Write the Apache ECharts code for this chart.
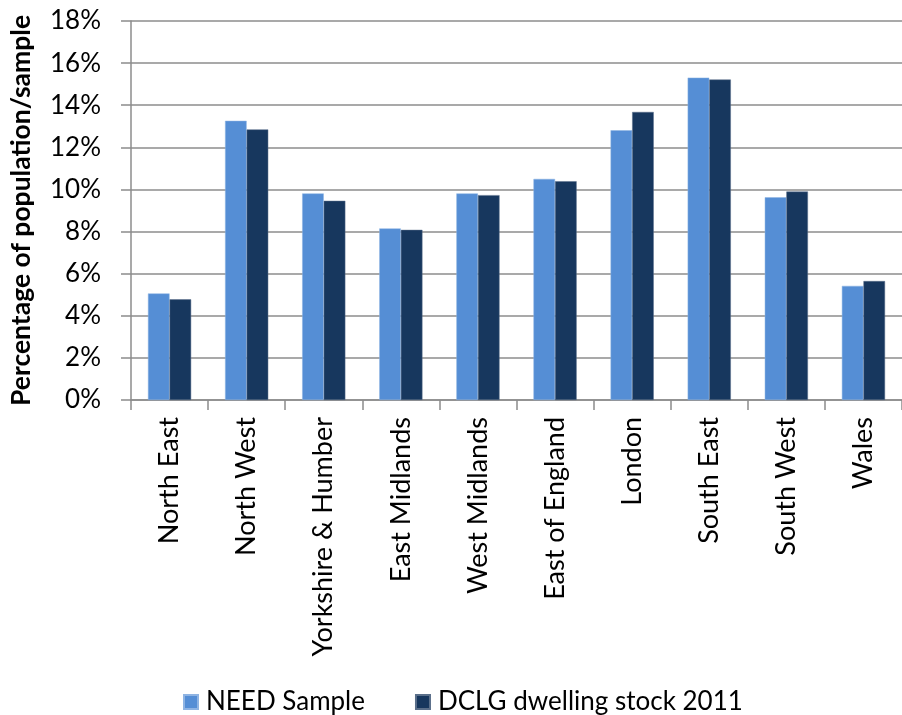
<!DOCTYPE html>
<html>
<head>
<meta charset="utf-8">
<script src="https://cdn.jsdelivr.net/npm/echarts@6/dist/echarts.min.js"></script>
<style>
  html, body { margin: 0; padding: 0; background: #fff; }
  #chart { width: 902px; height: 715px; }
</style>
</head>
<body>
<div id="chart"></div>
<script>
// Regions of England and Wales
const regions = ['North East', 'North West', 'Yorkshire & Humber', 'East Midlands', 'West Midlands',
                 'East of England', 'London', 'South East', 'South West', 'Wales'];
// Share of each region (%)
const needSample = [5.06, 13.26, 9.81, 8.15, 9.81, 10.50, 12.81, 15.31, 9.63, 5.42];
const dclgStock  = [4.78, 12.85, 9.46, 8.08, 9.73, 10.39, 13.68, 15.22, 9.90, 5.65];
const seriesNames = ['NEED Sample', 'DCLG dwelling stock 2011'];

const FONT = 'Lato, "Open Sans", sans-serif';
const chart = echarts.init(document.getElementById('chart'));

chart.setOption({
  animation: false,
  textStyle: { fontFamily: FONT },
  grid: { left: 125, right: -11, top: 21, bottom: 315, containLabel: false },
  legend: {
    bottom: -5,
    left: 178,
    itemWidth: 14,
    itemHeight: 14,
    itemGap: 50,
    icon: 'rect',
    textStyle: { fontSize: 26, color: '#000', fontFamily: FONT, padding: [0, 0, 0, 3] },
    data: seriesNames
  },
  xAxis: {
    type: 'category',
    data: regions,
    axisLine: { lineStyle: { color: '#8c8c8c', width: 1.5 } },
    axisTick: { show: true, length: 10, alignWithLabel: false, lineStyle: { color: '#8c8c8c', width: 1.5 } },
    axisLabel: { rotate: 90, fontSize: 27, color: '#000', margin: 17, interval: 0, fontFamily: FONT }
  },
  yAxis: {
    type: 'value',
    min: 0,
    max: 18,
    interval: 2,
    name: 'Percentage of population/sample',
    nameLocation: 'middle',
    nameGap: 96,
    nameTextStyle: { fontSize: 26.5, fontWeight: 'bold', color: '#000', fontFamily: FONT },
    axisLine: { show: true, lineStyle: { color: '#8c8c8c', width: 1.5 } },
    axisTick: { show: true, inside: false, length: 10, lineStyle: { color: '#8c8c8c', width: 1.5 } },
    axisLabel: { formatter: '{value}%', fontSize: 26, color: '#000', margin: 30, fontFamily: FONT },
    splitLine: { lineStyle: { color: '#8c8c8c', width: 1.5 } }
  },
  series: [
    {
      name: seriesNames[0],
      type: 'bar',
      data: needSample,
      barGap: '0%',
      barCategoryGap: '44%',
      itemStyle: { color: '#558ED5', borderColor: '#8fb4e3', borderWidth: 0.5 }
    },
    {
      name: seriesNames[1],
      type: 'bar',
      data: dclgStock,
      itemStyle: { color: '#17375E', borderColor: '#5a6f8a', borderWidth: 0.5 }
    }
  ]
});
</script>
</body>
</html>
